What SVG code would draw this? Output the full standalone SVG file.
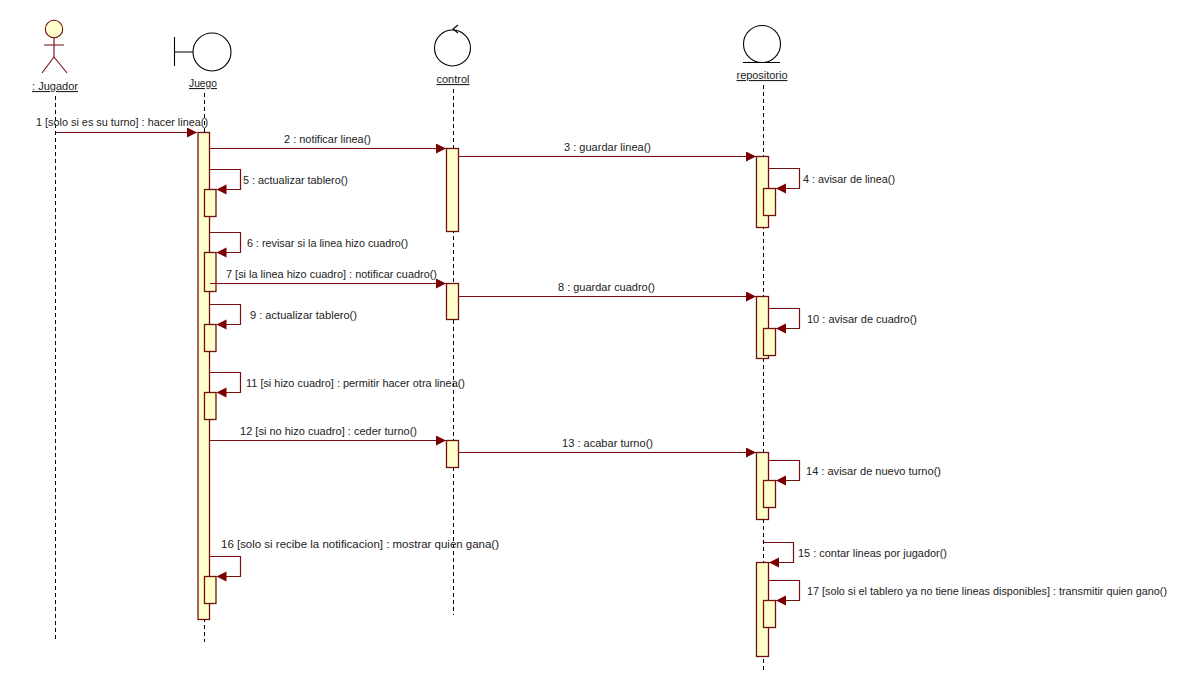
<svg xmlns="http://www.w3.org/2000/svg" width="1187" height="693" viewBox="0 0 1187 693">
<style>
text{font-family:"Liberation Sans",Arial,sans-serif;font-size:11px;fill:#222}
.n{text-decoration:underline}
.ll{stroke:#000;stroke-width:1;stroke-dasharray:4 3;fill:none}
.a{fill:#ffffcb;stroke:#6f0f0f;stroke-width:1.3}
.m{fill:none;stroke:#7a0f0f;stroke-width:1.2;marker-end:url(#h)}
.o{fill:none;stroke:#000;stroke-width:1.1}
</style>
<defs><marker id="h" markerUnits="userSpaceOnUse" markerWidth="11" markerHeight="11" refX="10" refY="5" orient="auto"><path d="M0 0L10 5L0 10Z" fill="#7a0000"/></marker></defs>
<rect width="1187" height="693" fill="#fff"/>
<g id="lifelines">
<path class="ll" d="M55.5 96V640"/><path class="ll" d="M204.5 93V642"/><path class="ll" d="M453.5 89V615"/><path class="ll" d="M763.5 85V670"/>
</g>
<g id="jugador">
<circle cx="54" cy="29" r="8.7" fill="#ffffcb" stroke="#6f0f0f" stroke-width="1.1"/>
<path d="M54 38V57M44 45H64M54 57L42 73M54 57L67 73" fill="none" stroke="#6f0f0f" stroke-width="1.1"/>
<text class="n" x="32" y="90" textLength="46" lengthAdjust="spacingAndGlyphs">: Jugador</text>
</g>
<g id="juego">
<circle class="o" cx="212" cy="52" r="19"/><path class="o" d="M174.5 37V66M174.5 52H193"/>
<text class="n" x="189" y="87" textLength="28" lengthAdjust="spacingAndGlyphs">Juego</text>
</g>
<g id="control">
<circle class="o" cx="452.500" cy="48" r="18"/><path class="o" d="M458 25L453 29L458 33"/>
<text class="n" x="436.500" y="83" textLength="33" lengthAdjust="spacingAndGlyphs">control</text>
</g>
<g id="repositorio">
<circle class="o" cx="762" cy="44" r="18.500"/><path class="o" d="M743 62.500H780"/>
<text class="n" x="736.500" y="79" textLength="51" lengthAdjust="spacingAndGlyphs">repositorio</text>
</g>
<g id="activations">
<rect class="a" x="198" y="132.500" width="11.500" height="487"/>
<rect class="a" x="204.500" y="189.500" width="11.500" height="27"/>
<rect class="a" x="204.500" y="252.500" width="11.500" height="39"/>
<rect class="a" x="204.500" y="324.500" width="11.500" height="27"/>
<rect class="a" x="204.500" y="392.500" width="11.500" height="27"/>
<rect class="a" x="204.500" y="576.500" width="11.500" height="27"/>
<rect class="a" x="446.500" y="148.500" width="12" height="83"/>
<rect class="a" x="446.500" y="283.500" width="12" height="36"/>
<rect class="a" x="446.500" y="440.500" width="12" height="27"/>
<rect class="a" x="756.500" y="156.500" width="12" height="71"/>
<rect class="a" x="763.500" y="188.500" width="12" height="27"/>
<rect class="a" x="756.500" y="296.500" width="12" height="62"/>
<rect class="a" x="763.500" y="328.500" width="12" height="27"/>
<rect class="a" x="756.500" y="452.500" width="12" height="67"/>
<rect class="a" x="763.500" y="480.500" width="12" height="27"/>
<rect class="a" x="756.500" y="562.500" width="12" height="94"/>
<rect class="a" x="763.500" y="600.500" width="12" height="27"/>
</g>
<g id="connectors">
<path class="m" d="M56 132.500H197"/>
<path class="m" d="M210 148.500H446"/>
<path class="m" d="M459 156.500H756"/>
<path class="m" d="M769 168.500H799.500V188.500H776"/>
<path class="m" d="M210 169.500H240.500V189.500H216.500"/>
<path class="m" d="M210 232.500H240.500V252.500H216.500"/>
<path class="m" d="M210 283.500H446"/>
<path class="m" d="M459 296.500H756"/>
<path class="m" d="M769 308.500H799.500V328.500H776"/>
<path class="m" d="M210 304.500H240.500V324.500H216.500"/>
<path class="m" d="M210 372.500H240.500V392.500H216.500"/>
<path class="m" d="M210 440.500H446"/>
<path class="m" d="M459 452.500H756"/>
<path class="m" d="M769 460.500H799.500V480.500H776"/>
<path class="m" d="M763.500 542.500H793.500V562.500H769"/>
<path class="m" d="M210 556.500H240.500V576.500H216.500"/>
<path class="m" d="M769 580.500H799.500V600.500H776"/>
</g>
<g id="labels">
<text x="36" y="126" textLength="172" lengthAdjust="spacingAndGlyphs">1 [solo si es su turno] : hacer linea()</text>
<text x="284" y="143" textLength="87" lengthAdjust="spacingAndGlyphs">2 : notificar linea()</text>
<text x="564" y="151" textLength="87" lengthAdjust="spacingAndGlyphs">3 : guardar linea()</text>
<text x="803" y="183" textLength="92" lengthAdjust="spacingAndGlyphs">4 : avisar de linea()</text>
<text x="243" y="184" textLength="105" lengthAdjust="spacingAndGlyphs">5 : actualizar tablero()</text>
<text x="247" y="247" textLength="161" lengthAdjust="spacingAndGlyphs">6 : revisar si la linea hizo cuadro()</text>
<text x="226" y="278" textLength="211" lengthAdjust="spacingAndGlyphs">7 [si la linea hizo cuadro] : notificar cuadro()</text>
<text x="558" y="291" textLength="97" lengthAdjust="spacingAndGlyphs">8 : guardar cuadro()</text>
<text x="250" y="319" textLength="107" lengthAdjust="spacingAndGlyphs">9 : actualizar tablero()</text>
<text x="807" y="323" textLength="110" lengthAdjust="spacingAndGlyphs">10 : avisar de cuadro()</text>
<text x="246" y="387" textLength="219" lengthAdjust="spacingAndGlyphs">11 [si hizo cuadro] : permitir hacer otra linea()</text>
<text x="240" y="435" textLength="177" lengthAdjust="spacingAndGlyphs">12 [si no hizo cuadro] : ceder turno()</text>
<text x="562" y="447" textLength="91" lengthAdjust="spacingAndGlyphs">13 : acabar turno()</text>
<text x="806" y="475" textLength="135" lengthAdjust="spacingAndGlyphs">14 : avisar de nuevo turno()</text>
<text x="798" y="557" textLength="149" lengthAdjust="spacingAndGlyphs">15 : contar lineas por jugador()</text>
<text x="221" y="548" textLength="278" lengthAdjust="spacingAndGlyphs">16 [solo si recibe la notificacion] : mostrar quien gana()</text>
<text x="807" y="595" textLength="360" lengthAdjust="spacingAndGlyphs">17 [solo si el tablero ya no tiene lineas disponibles] : transmitir quien gano()</text>
</g>
</svg>
